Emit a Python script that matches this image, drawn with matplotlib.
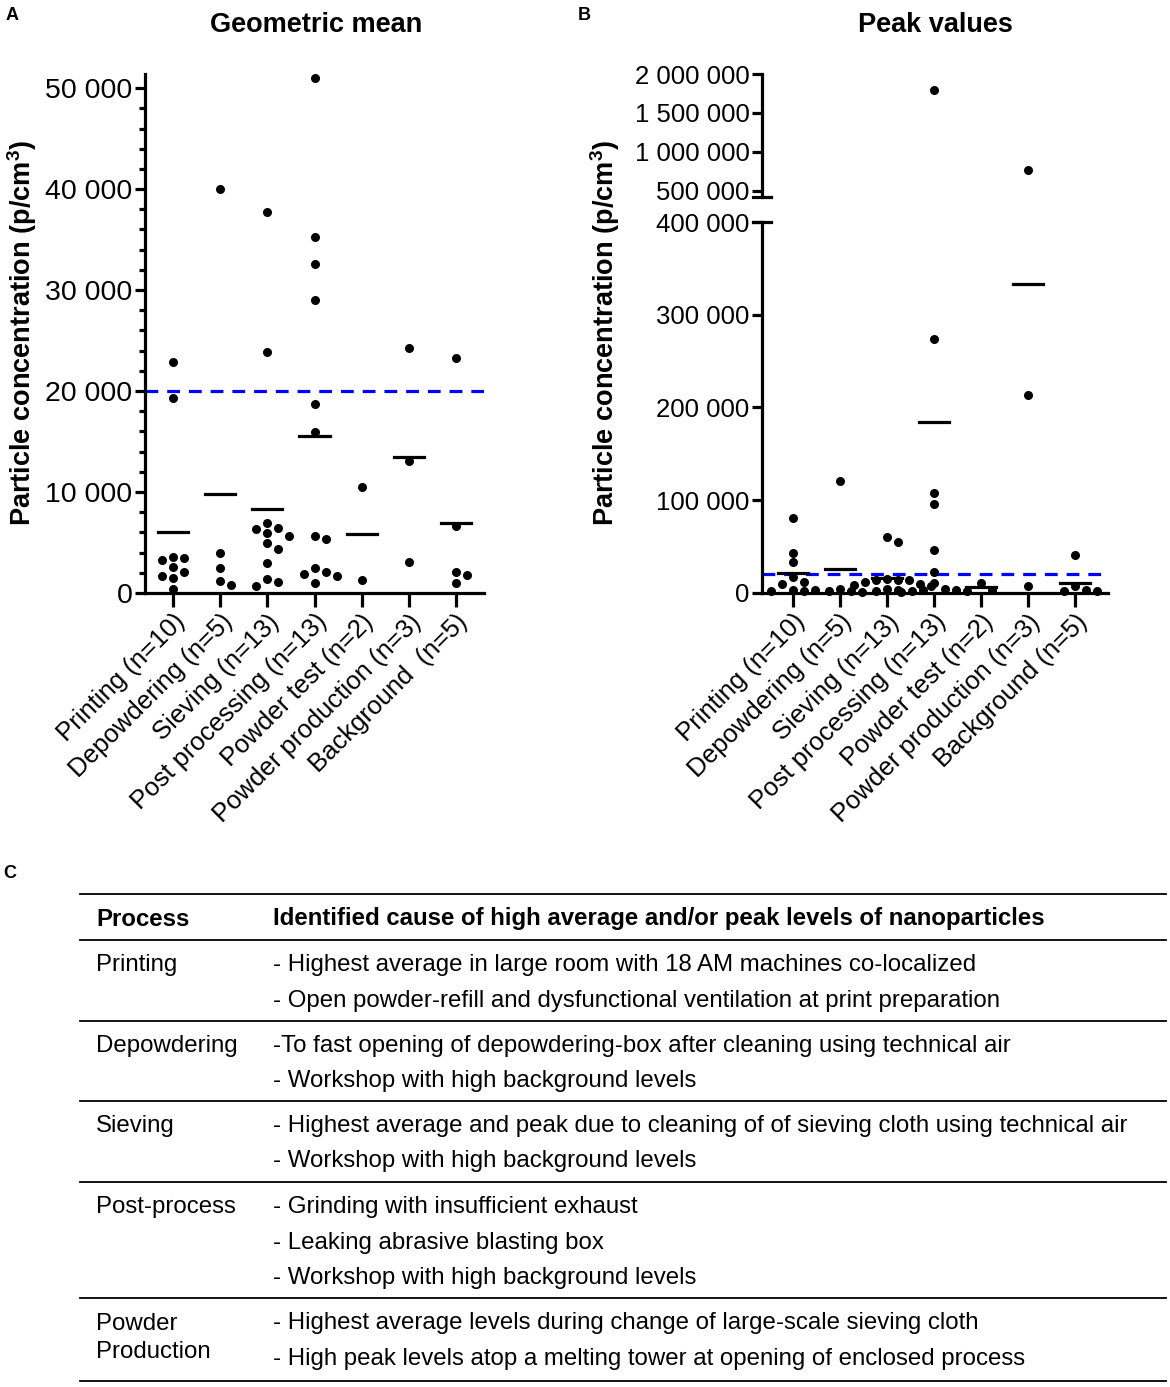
import matplotlib
matplotlib.use("Agg")
import matplotlib.pyplot as plt
from matplotlib.lines import Line2D
from matplotlib.ticker import FuncFormatter, MultipleLocator
import numpy as np

plt.rcParams["font.family"] = ["Liberation Sans", "DejaVu Sans"]
plt.rcParams["mathtext.default"] = "regular"

# ---- data ----
labels_a = ["Printing (n=10)", "Depowdering (n=5)", "Sieving (n=13)",
            "Post processing (n=13)", "Powder test (n=2)",
            "Powder production (n=3)", "Background  (n=5)"]
labels_b = ["Printing (n=10)", "Depowdering (n=5)", "Sieving (n=13)",
            "Post processing (n=13)", "Powder test (n=2)",
            "Powder production (n=3)", "Background (n=5)"]

geo_printing = [22900, 19300, 3300, 3450, 3600, 2100, 2550, 1700, 1500, 400]
geo_depowdering = [40000, 4000, 2500, 800, 1200]
geo_sieving = [37750, 23900, 6900, 5950, 6350, 6450, 5600, 4950, 4400, 2950, 1400, 1050, 700]
geo_post = [51000, 35250, 32550, 29050, 18750, 15900, 5650, 5350, 2050, 2450, 1850, 1650, 950]
geo_powder_test = [10450, 1300]
geo_powder_prod = [24300, 13100, 3100]
geo_background = [23300, 6650, 2050, 1800, 1000]
geo_data = [geo_printing, geo_depowdering, geo_sieving, geo_post,
            geo_powder_test, geo_powder_prod, geo_background]
geo_means = [6070, 9770, 8350, 15570, 5870, 13500, 6960]

peak_printing = [80500, 43100, 33100, 16900, 12200, 9700, 3500, 3000, 2500, 2000]
peak_depowdering = [121000, 4300, 2500, 2000, 1500]
peak_sieving = [60000, 55000, 15000, 14500, 14000, 13500, 12000, 10000, 9000, 8000, 4000, 3000, 2500]
peak_post = [1798000, 274000, 108100, 95600, 46400, 22600, 11100, 4000, 3500, 3000, 2500, 2000, 1500]
peak_powder_test = [10500, 3200]
peak_powder_prod = [770000, 213200, 7500]
peak_background = [40600, 8000, 3000, 2500, 2000]
peak_data = [peak_printing, peak_depowdering, peak_sieving, peak_post,
             peak_powder_test, peak_powder_prod, peak_background]
peak_means = [21200, 25900, 16200, 184400, 6800, 333000, 11100]

limit_value = 20000

table_process = ["Printing", "Depowdering", "Sieving", "Post-process", "Powder\nProduction"]
table_causes = [
    ["- Highest average in large room with 18 AM machines co-localized",
     "- Open powder-refill and dysfunctional ventilation at print preparation"],
    ["-To fast opening of depowdering-box after cleaning using technical air",
     "- Workshop with high background levels"],
    ["- Highest average and peak due to cleaning of of sieving cloth using technical air",
     "- Workshop with high background levels"],
    ["- Grinding with insufficient exhaust",
     "- Leaking abrasive blasting box",
     "- Workshop with high background levels"],
    ["- Highest average levels during change of large-scale sieving cloth",
     "- High peak levels atop a melting tower at opening of enclosed process"],
]

W, H = 1170, 1387
fig = plt.figure(figsize=(W / 100, H / 100), dpi=100)


def fx(px):
    return px / W


def fy(py):
    return 1 - py / H


def space_fmt(v, pos=None):
    return f"{v:,.0f}".replace(",", " ")


def swarm(ax, xpos, vals, step=11, dmin=9):
    # simple beeswarm in pixel space
    tr = ax.transData
    placed, xs = [], []
    for v in vals:
        px0, py = tr.transform((xpos, v))
        for k in [0, 1, -1, 2, -2, 3, -3, 4, -4]:
            px = px0 + k * step
            if all((px - qx) ** 2 + (py - qy) ** 2 >= dmin ** 2 for qx, qy in placed):
                break
        placed.append((px, py))
        xs.append(tr.inverted().transform((px, py))[0])
    return xs


def style_axis(ax, ysize):
    for s in ["top", "right"]:
        ax.spines[s].set_visible(False)
    for s in ["left", "bottom"]:
        ax.spines[s].set_linewidth(2.3)
    ax.tick_params(axis="both", which="major", width=2.3, length=7, pad=2)
    ax.tick_params(axis="y", labelsize=ysize)
    ax.tick_params(axis="x", which="major", length=10)


xs_pos = np.arange(len(labels_a))

# ---- panel A ----
axA = fig.add_axes([fx(145), fy(593), fx(484) - fx(145), fy(74) - fy(593)])
axA.set_xlim(-0.6, 6.6)
axA.set_ylim(0, 51400)
style_axis(axA, 20.5)
axA.yaxis.set_major_locator(MultipleLocator(10000))
axA.yaxis.set_minor_locator(MultipleLocator(2000))
axA.tick_params(axis="y", which="minor", width=2.3, length=4.5)
axA.yaxis.set_major_formatter(FuncFormatter(space_fmt))
axA.set_xticks(xs_pos)
axA.set_xticklabels(labels_a, rotation=45, ha="right", rotation_mode="anchor", fontsize=18.5)
axA.axhline(limit_value, color="#0000ff", lw=2.3, ls=(0, (4, 2.8)), zorder=1)
for i, vals in enumerate(geo_data):
    vs = sorted(vals, reverse=True)
    axA.scatter(swarm(axA, i, vs), vs, s=30, color="black", zorder=3, clip_on=False)
    axA.plot([i - 0.32, i + 0.32], [geo_means[i]] * 2, color="black", lw=2.3, zorder=2)

# ---- panel B (broken axis) ----
left_b, right_b = fx(762), fx(1108)
axB = fig.add_axes([left_b, fy(593), right_b - left_b, fy(222) - fy(593)])
axBu = fig.add_axes([left_b, fy(197), right_b - left_b, fy(74) - fy(197)])
for ax in (axB, axBu):
    ax.set_xlim(-0.65, 6.7)
    style_axis(ax, 18.5)
    ax.yaxis.set_major_formatter(FuncFormatter(space_fmt))
axB.set_ylim(0, 400000)
axB.set_yticks([0, 100000, 200000, 300000, 400000])
axBu.set_ylim(420000, 2000000)
axBu.set_yticks([500000, 1000000, 1500000, 2000000])
axBu.spines["bottom"].set_visible(False)
axBu.set_xticks([])
axB.set_xticks(xs_pos)
axB.set_xticklabels(labels_b, rotation=45, ha="right", rotation_mode="anchor", fontsize=18.5)
axB.axhline(limit_value, color="#0000ff", lw=2.3, ls=(0, (4, 2.8)), zorder=1)
# break caps
axB.plot([-0.025, 0.025], [1, 1], transform=axB.transAxes, color="black", lw=2.3, clip_on=False)
axBu.plot([-0.025, 0.025], [0, 0], transform=axBu.transAxes, color="black", lw=2.3, clip_on=False)

for i, vals in enumerate(peak_data):
    lo = sorted([v for v in vals if v < 400000], reverse=True)
    hi = sorted([v for v in vals if v >= 400000], reverse=True)
    axB.scatter(swarm(axB, i, lo), lo, s=30, color="black", zorder=3, clip_on=False)
    if hi:
        axBu.scatter(swarm(axBu, i, hi), hi, s=30, color="black", zorder=3, clip_on=False)
    axB.plot([i - 0.32, i + 0.32], [peak_means[i]] * 2, color="black", lw=2.3, zorder=2)

# ---- titles, axis labels, panel letters ----
ylab = "Particle concentration (p/cm$^3$)"
fig.text(fx(22), fy(333), ylab, rotation=90, ha="center", va="center", fontsize=19.5, fontweight="bold")
fig.text(fx(605), fy(333), ylab, rotation=90, ha="center", va="center", fontsize=19.5, fontweight="bold")
fig.text(fx(316), fy(25), "Geometric mean", ha="center", va="center", fontsize=19.5, fontweight="bold")
fig.text(fx(935), fy(25), "Peak values", ha="center", va="center", fontsize=19.5, fontweight="bold")
fig.text(fx(12), fy(16), "A", ha="center", va="center", fontsize=13, fontweight="bold")
fig.text(fx(584), fy(16), "B", ha="center", va="center", fontsize=13, fontweight="bold")
fig.text(fx(10), fy(873), "C", ha="center", va="center", fontsize=13, fontweight="bold")

# ---- panel C table ----
line_y = [894, 940, 1021, 1101, 1182, 1298, 1381]
for y in line_y:
    fig.add_artist(Line2D([fx(80), fx(1166)], [fy(y), fy(y)], color="black", lw=1.3))

fs_tab = 17.3
fig.text(fx(96), fy(919), "Process", ha="left", va="center", fontsize=fs_tab, fontweight="bold")
fig.text(fx(273), fy(919), "Identified cause of high average and/or peak levels of nanoparticles",
         ha="left", va="center", fontsize=fs_tab, fontweight="bold")
row_gap = 35.5
for r, (proc, causes) in enumerate(zip(table_process, table_causes)):
    y0 = line_y[r + 1] + 25
    if "\n" in proc:
        for j, part in enumerate(proc.split("\n")):
            fig.text(fx(96), fy(y0 + 1 + j * 28), part, ha="left", va="center", fontsize=fs_tab)
    else:
        fig.text(fx(96), fy(y0), proc, ha="left", va="center", fontsize=fs_tab)
    for j, c in enumerate(causes):
        fig.text(fx(273), fy(y0 + j * row_gap), c, ha="left", va="center", fontsize=fs_tab)

fig.savefig("out.png", dpi=100)
